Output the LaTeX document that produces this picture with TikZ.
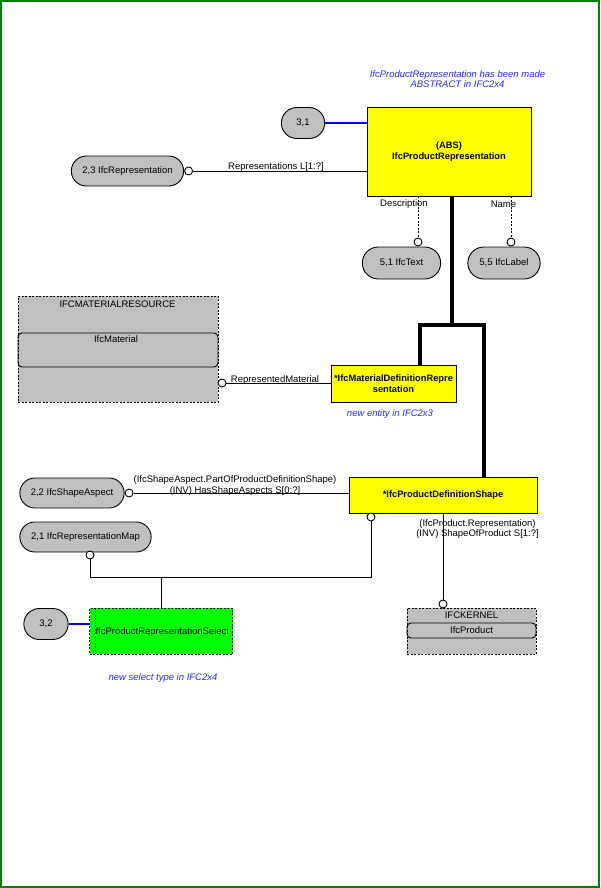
\documentclass[tikz,border=0pt]{standalone}
\usepackage{fontspec}
\setmainfont{Liberation Sans}
\usetikzlibrary{shapes.misc, positioning, calc}

\definecolor{ifcgrey}{RGB}{192,192,192}
\definecolor{ifcyellow}{RGB}{255,255,0}
\definecolor{ifcgreen}{RGB}{0,255,0}
\definecolor{ifcframe}{RGB}{0,128,0}
\definecolor{ifcnote}{RGB}{40,40,255}

\begin{document}
\begin{tikzpicture}[
    x=1pt, y=-1pt,
    font=\fontsize{9.5}{10.7}\selectfont,
    pill/.style={rounded rectangle, draw, fill=ifcgrey, minimum height=30pt, line width=0.9pt},
    entity/.style={rectangle, draw, fill=ifcyellow, align=center, line width=0.9pt, font=\fontsize{9.3}{10.7}\selectfont\bfseries},
    ring/.style={circle, draw, fill=white, inner sep=0pt, minimum size=8pt, line width=0.9pt},
    conn/.style={line width=0.9pt},
    optconn/.style={line width=0.9pt, dash pattern=on 2pt off 1.5pt},
    supertype/.style={line width=3.5pt},
    pagelink/.style={draw=blue, line width=2.2pt},
    schema/.style={rectangle, draw, fill=ifcgrey, line width=0.9pt, dash pattern=on 2pt off 1.5pt},
    member/.style={rectangle, draw, rounded corners=4pt, line width=0.9pt},
    role/.style={inner sep=0pt, align=center},
    note/.style={inner sep=0pt, align=center, text=ifcnote, font=\fontsize{9.5}{10.7}\selectfont\itshape}
]
\useasboundingbox (0,0) rectangle (600,888);
\draw[ifcframe, line width=2pt] (1,1) rectangle (599,887);

% Abstract supertype
\node[entity, minimum width=164pt, minimum height=89pt] (prodrep) at (449,151.5) {(ABS)\\IfcProductRepresentation};
\node[note] (noteabs) at (457.5,79) {IfcProductRepresentation has been made\\ABSTRACT in IFC2x4};
\node[pill, minimum width=50pt, minimum height=31pt] (p31) at (303,123) {3,1};
\node[pill, minimum width=119pt] (p23) at (127.5,171) {2,3 IfcRepresentation};
\node[ring, right=0pt of p23] (c23) {};

% Attributes
\node[pill, minimum width=85pt, minimum height=32pt] (ptext) at (401.5,263) {5,1 IfcText};
\node[pill, minimum width=79pt, minimum height=32pt] (plabel) at (504,263) {5,5 IfcLabel};
\node[ring] (cdesc) at (418,242) {};
\node[ring] (cname) at (511,242) {};
\node[role] (ldesc) at (404,204) {Description};
\node[role] (lname) at (503.5,204) {Name};

% Subtypes
\node[entity, minimum width=125pt, minimum height=37pt, inner sep=1pt] (matdef) at (393.5,383.5) {*IfcMaterialDefinitionRepre\\sentation};
\node[note] (notemat) at (390,414) {new entity in IFC2x3};
\node[entity, minimum width=188pt, minimum height=36pt] (proddef) at (443,495) {*IfcProductDefinitionShape};

% Material resource
\node[schema, minimum width=200pt, minimum height=106pt] (matres) at (118,349) {};
\node[inner sep=0pt] (lmatres) at (117.5,304) {IFCMATERIALRESOURCE};
\node[member, minimum width=200pt, minimum height=34pt] (mat) at (118,350) {};
\node[inner sep=0pt] (lmat) at (116,339) {IfcMaterial};
\node[ring] (cmat) at (222,383) {};

% Shape aspects and maps
\node[pill, minimum width=111pt] (p22) at (72,493) {2,2 IfcShapeAspect};
\node[ring, right=0pt of p22] (c22) {};
\node[pill, minimum width=138pt] (p21) at (85.5,537) {2,1 IfcRepresentationMap};
\node[ring] (c21) at (90,555) {};
\node[ring] (cpds) at (371,517) {};

% Kernel
\node[schema, minimum width=129pt, minimum height=46pt] (kernel) at (471.5,631) {};
\node[inner sep=0pt] (lkernel) at (471.5,615) {IFCKERNEL};
\node[member, minimum width=129pt, minimum height=15pt, inner sep=0pt] (prod) at (471.5,630.5) {IfcProduct};
\node[ring] (cprod) at (443,604) {};

% Select
\node[schema, fill=ifcgreen, minimum width=143pt, minimum height=46pt] (select) at (161.3,631) {};
\node[inner sep=0pt] (lselect) at (162.3,632) {IfcProductRepresentationSelect};
\node[pill, minimum width=51pt, minimum height=31pt] (p32) at (46,624) {3,2};
\node[note] (notesel) at (163,678) {new select type in IFC2x4};

% Role labels
\node[role] (lrep) at (276,167.5) {Representations L[1:?]};
\node[role] (lmatrep) at (275,380.5) {RepresentedMaterial};
\node[role] (laspect) at (235,485.5) {(IfcShapeAspect.PartOfProductDefinitionShape)\\(INV) HasShapeAspects S[0:?]};
\node[role] (lprod) at (477.5,529) {(IfcProduct.Representation)\\(INV) ShapeOfProduct S[1:?]};

% Connectors
\coordinate (fork) at (452,325);
\coordinate (forkL) at (420,325);
\coordinate (forkR) at (484,325);
\coordinate (join) at (161.3,577);

\draw[pagelink] (p31.east) -- (p31.east -| prodrep.west);
\draw[conn] (c23) -- (c23 -| prodrep.west);
\draw[optconn] (prodrep.south -| cdesc) -- (cdesc);
\draw[optconn] (prodrep.south -| cname) -- (cname);
\draw[supertype] (prodrep.south -| fork) -- (fork);
\draw[supertype] (forkL |- matdef.north) -- (forkL) -- (forkR) -- (forkR |- proddef.north);
\draw[conn] (cmat) -- (cmat -| matdef.west);
\draw[conn] (c22) -- (c22 -| proddef.west);
\draw[conn] (proddef.south -| cprod) -- (cprod);
\draw[conn] (c21.south) |- (cpds |- join) -- (cpds.south);
\draw[conn] (join) -- (join |- select.north);
\draw[pagelink] (p32.east) -- (p32.east -| select.west);
\draw[optconn] ([xshift=6pt]select.north west) -- ([xshift=6pt]select.south west);

\end{tikzpicture}
\end{document}
